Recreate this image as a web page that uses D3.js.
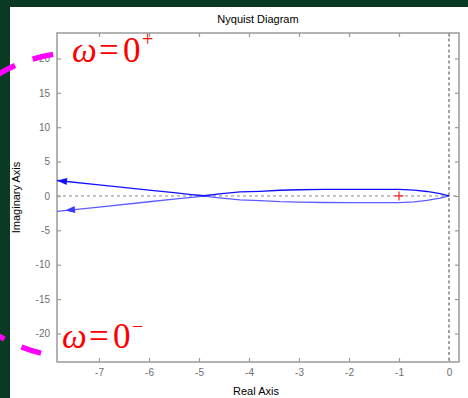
<!DOCTYPE html>
<html>
<head>
<meta charset="utf-8">
<script src="https://d3js.org/d3.v7.min.js"></script>
<style>
  body { margin: 0; background: #0b3a24; }
  svg { display: block; }
</style>
</head>
<body>
<div id="chart"></div>
<script>
//========================
//   Data
//========================
// real part of G(jw), shared by both branches
var re = [-7.84, -7, -6, -5.5, -5.2, -4.9, -4.54, -4.18, -3.78, -3.38, -3, -2.5, -2, -1.5, -1, -0.7, -0.44, -0.18, 0];
// imaginary part, w > 0 branch
var imPos = [2.25, 1.61, 0.84, 0.47, 0.23, 0.03, 0.33, 0.58, 0.68, 0.83, 0.9, 0.95, 0.97, 0.97, 0.97, 0.85, 0.65, 0.33, 0];
// imaginary part, w < 0 branch
var imNeg = [-2.25, -1.61, -0.84, -0.47, -0.23, -0.03, -0.33, -0.58, -0.68, -0.83, -0.9, -0.95, -0.97, -0.97, -0.97, -0.85, -0.65, -0.33, 0];

var xTicks = [-7, -6, -5, -4, -3, -2, -1, 0];
var yTicks = [-20, -15, -10, -5, 0, 5, 10, 15, 20];
var xDomain = [-7.84, 0.2];
var yDomain = [-24.15, 23.7];

// arrow heads: real part where they sit, and which branch
var arrowRe = [-7.84, -7.68];
var arrowBranch = ["pos", "neg"];

// critical point -1 + j0
var critical = [-1, 0];

//========================
//   Layout
//========================
var W = 468, H = 398;
var mLeft = 57, mTop = 33, mRight = 459, mBottom = 362;//plot box edges

var svg = d3.select("#chart").append("svg")
  .attr("width", W).attr("height", H);

// dark green slide background + white panel
svg.append("rect").attr("width", W).attr("height", H).attr("fill", "#0b3a24");
svg.append("rect").attr("x", 10).attr("y", 7).attr("width", W - 10).attr("height", H - 7).attr("fill", "#ffffff");

var x = d3.scaleLinear().domain(xDomain).range([mLeft, mRight]);
var y = d3.scaleLinear().domain(yDomain).range([mBottom, mTop]);

svg.append("clipPath").attr("id", "plotclip")
  .append("rect").attr("x", mLeft).attr("y", mTop).attr("width", mRight - mLeft).attr("height", mBottom - mTop);

//Zero lines (dashed)
svg.append("line")
  .attr("x1", mLeft).attr("x2", mRight).attr("y1", y(0)).attr("y2", y(0))
  .attr("stroke", "#8a8a8a").attr("stroke-width", 1).attr("stroke-dasharray", "3,3");
svg.append("line")
  .attr("x1", x(0)).attr("x2", x(0)).attr("y1", mTop).attr("y2", mBottom)
  .attr("stroke", "#8a8a8a").attr("stroke-width", 1.6).attr("stroke-dasharray", "3,2.5");

//========================
//   Axes
//========================
var axisColor = "#9a9a9a", labelColor = "#6e6e6e";
var fmt = function(d) { return String(d); };

function styleAxis(g) {
  g.select(".domain").remove();
  g.selectAll(".tick line").attr("stroke", axisColor).attr("stroke-width", 1.2);
  g.selectAll(".tick text").attr("fill", labelColor)
    .style("font-family", "'Liberation Sans', Arial, sans-serif").style("font-size", "10px");
}

svg.append("g").attr("transform", "translate(0," + mBottom + ")")
  .call(d3.axisBottom(x).tickValues(xTicks).tickFormat(fmt).tickSizeInner(-4).tickSizeOuter(0).tickPadding(7))
  .call(styleAxis);
svg.append("g").attr("transform", "translate(0," + mTop + ")")
  .call(d3.axisTop(x).tickValues(xTicks).tickFormat("").tickSizeInner(-4).tickSizeOuter(0))
  .call(styleAxis);
svg.append("g").attr("transform", "translate(" + mLeft + ",0)")
  .call(d3.axisLeft(y).tickValues(yTicks).tickFormat(fmt).tickSizeInner(-4).tickSizeOuter(0).tickPadding(7))
  .call(styleAxis);
svg.append("g").attr("transform", "translate(" + mRight + ",0)")
  .call(d3.axisRight(y).tickValues(yTicks).tickFormat("").tickSizeInner(-4).tickSizeOuter(0))
  .call(styleAxis);

//Plot box
svg.append("rect")
  .attr("x", mLeft).attr("y", mTop).attr("width", mRight - mLeft).attr("height", mBottom - mTop)
  .attr("fill", "none").attr("stroke", axisColor).attr("stroke-width", 1.5);

//========================
//   Nyquist curve
//========================
var plot = svg.append("g").attr("clip-path", "url(#plotclip)");

var line = d3.line().x(function(d) { return x(d[0]); }).y(function(d) { return y(d[1]); });
var posPts = d3.zip(re, imPos);
var negPts = d3.zip(re, imNeg);

plot.append("path").datum(negPts).attr("d", line)
  .attr("fill", "none").attr("stroke", "#5c5cff").attr("stroke-width", 1.3);
plot.append("path").datum(posPts).attr("d", line)
  .attr("fill", "none").attr("stroke", "#1010ff").attr("stroke-width", 1.3);

//Arrow heads, pointing along the branch towards the left
arrowRe.forEach(function(r, i) {
  var im = arrowBranch[i] == "pos" ? imPos : imNeg;
  var f = d3.scaleLinear().domain(re.slice(0, 3)).range(im.slice(0, 3));
  var px = x(r), py = y(f(r));
  var qx = x(r + 0.3), qy = y(f(r + 0.3));
  var a = Math.atan2(py - qy, px - qx);
  var len = 10, hw = 3.6;
  var bx = px - len * Math.cos(a), by = py - len * Math.sin(a);
  var p = d3.path();
  p.moveTo(px, py);
  p.lineTo(bx - hw * Math.sin(a), by + hw * Math.cos(a));
  p.lineTo(bx + hw * Math.sin(a), by - hw * Math.cos(a));
  p.closePath();
  svg.append("path").attr("d", p.toString())
    .attr("fill", arrowBranch[i] == "pos" ? "#1010ff" : "#3a3aff");
});

//Critical point marker
svg.append("path")
  .attr("d", "M" + (x(critical[0]) - 4.5) + "," + y(critical[1]) + "h9M" + x(critical[0]) + "," + (y(critical[1]) - 4.5) + "v9")
  .attr("stroke", "#ff2020").attr("stroke-width", 1.2);

//========================
//   Titles
//========================
var sans = "'Liberation Sans', Arial, sans-serif";
svg.append("text").attr("x", 258).attr("y", 23).attr("text-anchor", "middle")
  .style("font-family", sans).style("font-size", "11px").text("Nyquist Diagram");
svg.append("text").attr("x", 256).attr("y", 395).attr("text-anchor", "middle")
  .style("font-family", sans).style("font-size", "11px").text("Real Axis");
svg.append("text").attr("transform", "translate(20," + ((mTop + mBottom) / 2) + ") rotate(-90)")
  .attr("text-anchor", "middle")
  .style("font-family", sans).style("font-size", "11px").text("Imaginary Axis");

//========================
//   Annotations
//========================
var serif = "'Liberation Serif', 'Times New Roman', serif";
function omegaLabel(x0, base, sup, supBase) {
  var t = svg.append("text").attr("y", base).attr("fill", "#ff0000")
    .style("font-family", serif).style("font-size", "35px");
  t.append("tspan").attr("x", x0 - 1).style("font-style", "italic").text("ω");
  t.append("tspan").attr("x", x0 + 26).text("=");
  t.append("tspan").attr("x", x0 + 50).text("0");
  t.append("tspan").attr("x", x0 + 69).attr("y", supBase).style("font-size", "20px").text(sup);
}
omegaLabel(73, 62, "+", 46);
omegaLabel(63, 348, "\u2212", 333);

// infinite-radius arc (magenta dashes), centred in data coords, radius in px
var arcCentre = [-7.44, -1.31];
var arcRadius = 152.5;
var arcFrom = 4.555, arcTo = 1.809;
var arc = d3.path();
var cx = x(arcCentre[0]), cy = y(arcCentre[1]);
arc.moveTo(cx + arcRadius * Math.cos(arcFrom), cy + arcRadius * Math.sin(arcFrom));
arc.arc(cx, cy, arcRadius, arcFrom, arcTo, true);
svg.append("path").attr("d", arc.toString())
  .attr("fill", "none").attr("stroke", "#ff00ff").attr("stroke-width", 5.5)
  .attr("stroke-dasharray", "21,18.8");
</script>
</body>
</html>
